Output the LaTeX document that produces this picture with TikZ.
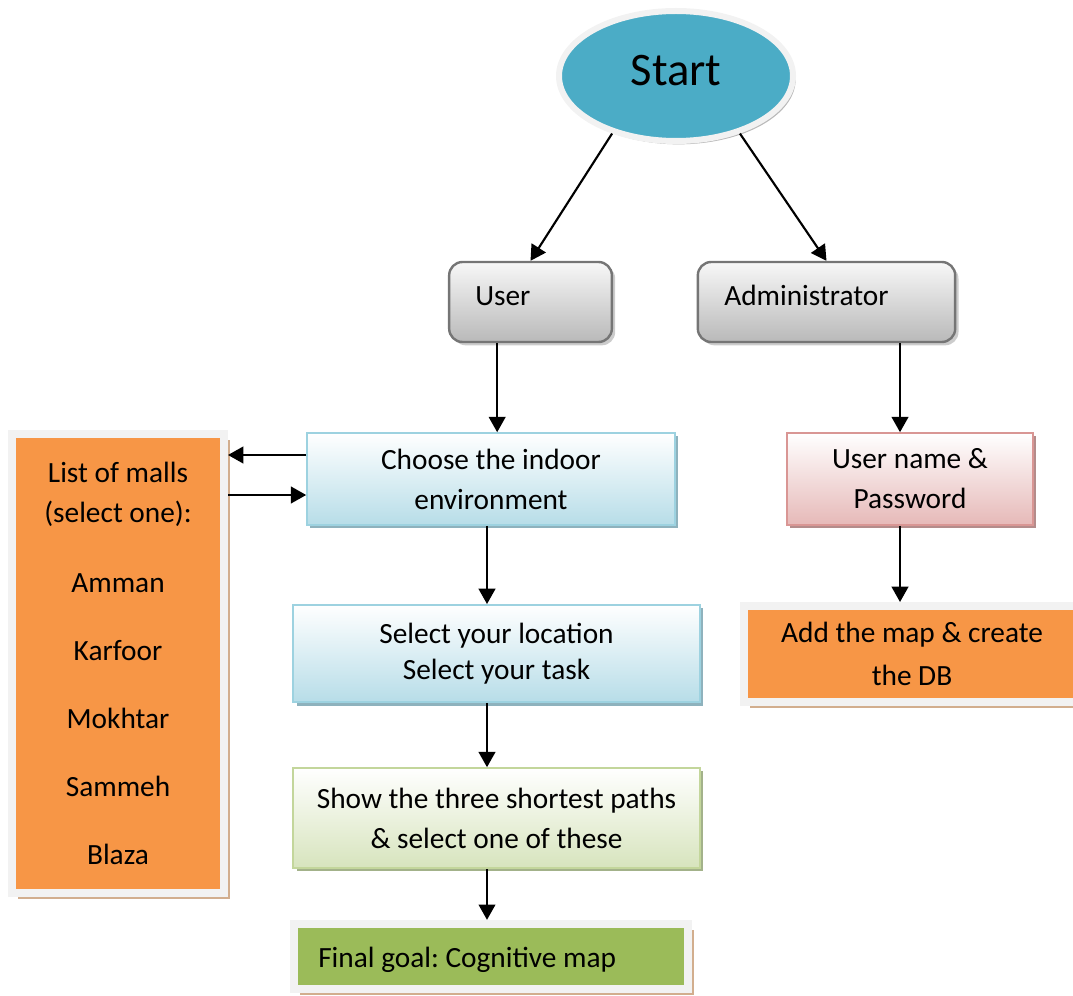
\documentclass[tikz,border=0pt]{standalone}
\usepackage{fontspec}
\setmainfont{Carlito}
\frenchspacing
\usetikzlibrary{arrows.meta,shapes.geometric,shadows}

\definecolor{startblue}{HTML}{4BACC6}
\definecolor{mallorange}{HTML}{F79646}
\definecolor{goalgreen}{HTML}{9BBB59}
\definecolor{framegray}{HTML}{F2F2F2}
\definecolor{framebrown}{HTML}{D2AE8E}
\definecolor{grayline}{HTML}{757575}
\definecolor{bluelow}{HTML}{B7DDE8}
\definecolor{blueline}{HTML}{9DD2E0}
\definecolor{blueshade}{HTML}{8EB2BD}
\definecolor{greenlow}{HTML}{D7E4BD}
\definecolor{greenline}{HTML}{C3D69B}
\definecolor{greenshade}{HTML}{A3B28A}
\definecolor{pinklow}{HTML}{E6B9B8}
\definecolor{pinkline}{HTML}{D99694}
\definecolor{pinkshade}{HTML}{B48C8B}

\tikzset{
  boxtext/.style={font=\fontsize{22}{30}\selectfont, align=center, inner sep=0pt},
  startnode/.style={ellipse, fill=startblue, draw=framegray, line width=4.5pt,
    minimum width=175.5pt, minimum height=97.5pt, inner sep=0pt, text depth=9pt,
    font=\fontsize{35}{40}\selectfont,
    drop shadow={shadow xshift=2pt, shadow yshift=-2.5pt, fill=gray!55, opacity=1}},
  graybox/.style={rectangle, rounded corners=10pt, draw=grayline, line width=1.8pt,
    top color=gray!6, bottom color=gray!55,
    drop shadow={shadow xshift=2.5pt, shadow yshift=-2.5pt, fill=gray!40, opacity=1}},
  bluebox/.style={boxtext, draw=blueline, line width=1.2pt, top color=white, bottom color=bluelow,
    drop shadow={shadow xshift=2.5pt, shadow yshift=-2.5pt, fill=blueshade, opacity=1}},
  greenbox/.style={boxtext, draw=greenline, line width=1.2pt, top color=white, bottom color=greenlow,
    drop shadow={shadow xshift=2.5pt, shadow yshift=-2.5pt, fill=greenshade, opacity=1}},
  pinkbox/.style={boxtext, draw=pinkline, line width=1.2pt, top color=white, bottom color=pinklow,
    drop shadow={shadow xshift=2.5pt, shadow yshift=-2.5pt, fill=pinkshade, opacity=1}},
  framedbox/.style={boxtext, draw=framegray, line width=6pt,
    drop shadow={shadow xshift=4.5pt, shadow yshift=-4.5pt, fill=framebrown, opacity=1}},
}

\begin{document}
\begin{tikzpicture}[x=0.75pt,y=-0.75pt,
  arr/.style={->, >={Triangle[length=11.5pt,width=12.5pt]}, line width=1.6pt}]
\useasboundingbox (0,0) rectangle (1073,995);
% top
\node[startnode] (start) at (676,76) {Start};
\node[graybox, minimum width=122pt, minimum height=60pt] (user) at (530.5,302) {};
\node[boxtext, anchor=base west] (usertxt) at (475,305) {User};
\node[graybox, minimum width=193pt, minimum height=60pt] (admin) at (826.5,302) {};
\node[boxtext, anchor=base west] (admintxt) at (724,305) {Administrator};
\draw[arr] (start.222) -- (user.north);
\draw[arr] (start.318) -- (admin.north);
% user side
\node[bluebox, minimum width=276pt, minimum height=69pt] (choose) at (491,479)
  {Choose the indoor\\environment};
\node[framedbox, fill=mallorange, minimum width=159pt, minimum height=344pt] (malls) at (118,663.5)
  {List of malls\\(select one):\\[22pt]Amman\\[21pt]Karfoor\\[21pt]Mokhtar\\[21pt]Sammeh\\[21pt]Blaza};
\node[bluebox, minimum width=305pt, minimum height=73pt] (select) at (496.5,653.5)
  {Select your location\\[-3pt]Select your task};
\node[greenbox, minimum width=305pt, minimum height=75pt] (paths) at (496.5,818)
  {Show the three shortest paths\\\& select one of these};
\node[framedbox, fill=goalgreen, minimum width=295.5pt, minimum height=49pt] (goal) at (491,956.5) {};
\node[boxtext, anchor=base west] (goaltxt) at (318,967) {Final goal: Cognitive map};
\coordinate (u1) at ([xshift=-25pt]user.south);
\draw[arr] (u1) -- (u1 |- choose.north);
\coordinate (c1) at ([yshift=18pt]choose.west);
\coordinate (c2) at ([yshift=-12pt]choose.west);
\draw[arr] (c1) -- (c1 -| malls.east);
\draw[arr] (c2 -| malls.east) -- (c2);
\coordinate (c3) at ([xshift=-3pt]choose.south);
\draw[arr] (c3) -- (c3 |- select.north);
\draw[arr] (c3 |- select.south) -- (c3 |- paths.north);
\draw[arr] (c3 |- paths.south) -- (c3 |- goal.north);
% admin side
\node[pinkbox, minimum width=184.5pt, minimum height=69pt] (login) at (910,479)
  {User name \&\\Password};
\node[framedbox, fill=mallorange, minimum width=252pt, minimum height=72pt] (addmap) at (912,654)
  {Add the map \& create\\[2pt]the DB};
\coordinate (a1) at ([xshift=-7.5pt]login.north);
\draw[arr] (a1 |- admin.south) -- (a1);
\draw[arr] (a1 |- login.south) -- (a1 |- addmap.north);
\end{tikzpicture}
\end{document}
